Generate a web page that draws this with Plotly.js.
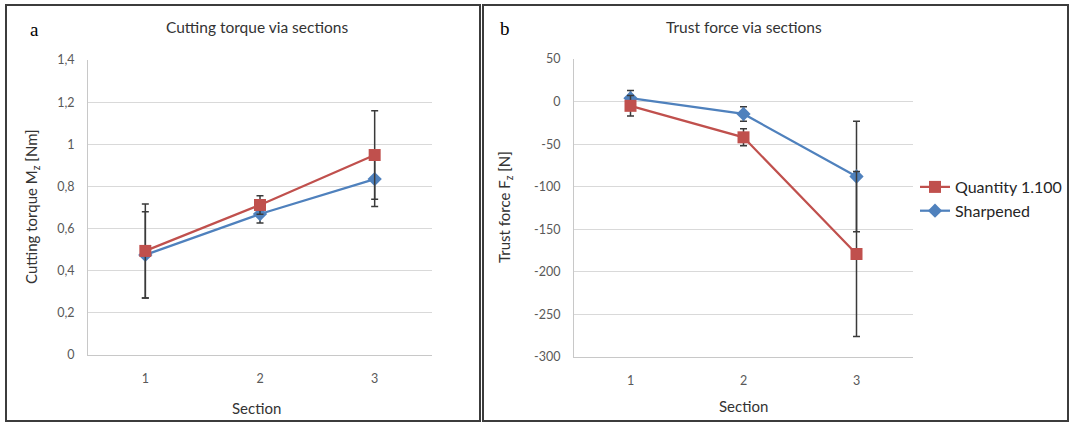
<!DOCTYPE html>
<html>
<head>
<meta charset="utf-8">
<script src="https://cdn.plot.ly/plotly-3.0.1.min.js"></script>
<style>html,body{margin:0;padding:0;background:#fff;}#chart{width:1071px;height:423px;}</style>
</head>
<body>
<div id="chart"></div>
<script>
// ---- data ----
const sections = ['1', '2', '3'];
const seriesNames = ['Quantity 1.100', 'Sharpened'];
// panel a: cutting torque Mz [Nm]
const torqueTicks = [0, 0.2, 0.4, 0.6, 0.8, 1, 1.2, 1.4];
const torqueTickLabels = ['0', '0,2', '0,4', '0,6', '0,8', '1', '1,2', '1,4'];
const torqueQuantity = [0.494, 0.712, 0.949];
const torqueQuantityErr = [0.223, 0.044, 0.21];
const torqueSharpened = [0.475, 0.669, 0.835];
const torqueSharpenedErr = [0.205, 0.042, 0.13];
// panel b: trust force Fz [N]
const forceTicks = [50, 0, -50, -100, -150, -200, -250, -300];
const forceTickLabels = ['50', '0', '-50', '-100', '-150', '-200', '-250', '-300'];
const forceQuantity = [-5, -42, -179];
const forceQuantityErr = [12, 10, 97];
const forceSharpened = [4, -14.5, -88];
const forceSharpenedErr = [9, 8.5, 65];

const RED = '#C0504D', BLUE = '#4F81BD', ERR = '#3a3a3a';
const W = 1071, H = 423;
const px = v => v / W, py = v => 1 - v / H;

function trace(x, y, err, name, color, symbol, size, xa, ya, showlegend) {
  return {
    type: 'scatter', mode: 'lines+markers', x: x, y: y, name: name,
    xaxis: xa, yaxis: ya, showlegend: showlegend,
    line: {color: color, width: 2.25},
    marker: {color: color, symbol: symbol, size: size},
    error_y: {type: 'data', array: err, visible: true, color: ERR, thickness: 1.5, width: 3.5}
  };
}

const data = [
  trace(sections, torqueSharpened, torqueSharpenedErr, seriesNames[1], BLUE, 'diamond', 11, 'x', 'y', false),
  trace(sections, torqueQuantity, torqueQuantityErr, seriesNames[0], RED, 'square', 12, 'x', 'y', false),
  trace(sections, forceSharpened, forceSharpenedErr, seriesNames[1], BLUE, 'diamond', 11, 'x2', 'y2', true),
  trace(sections, forceQuantity, forceQuantityErr, seriesNames[0], RED, 'square', 12, 'x2', 'y2', true)
];

const tickFont = {family: 'Lato, sans-serif', size: 12.5, color: '#595959'};
const titleFont = {family: 'Lato, sans-serif', size: 15.5, color: '#333333'};
const axisTitleFont = {family: 'Lato, sans-serif', size: 15, color: '#333333'};

function xaxis(domain, anchor) {
  return {
    domain: domain, anchor: anchor, type: 'category', range: [-0.5, 2.5],
    showgrid: false, zeroline: false, showline: true, linecolor: '#c8c8c8', linewidth: 1,
    ticks: '', tickfont: tickFont, ticklabelstandoff: 12, fixedrange: true
  };
}
function yaxis(domain, anchor, range, vals, labels) {
  return {
    domain: domain, anchor: anchor, range: range,
    tickmode: 'array', tickvals: vals, ticktext: labels,
    showgrid: true, gridcolor: '#d9d9d9', gridwidth: 1, zeroline: false,
    showline: true, linecolor: '#c8c8c8', linewidth: 1,
    ticks: '', tickfont: tickFont, ticklabelstandoff: 10, fixedrange: true
  };
}

function ann(text, x, y, font, extra) {
  return Object.assign({text: text, x: px(x), y: py(y), xref: 'paper', yref: 'paper',
    xanchor: 'center', yanchor: 'middle', showarrow: false, font: font}, extra || {});
}
const letterFont = {family: 'Liberation Serif, serif', size: 19, color: '#000'};

const layout = {
  width: W, height: H,
  margin: {l: 0, r: 0, t: 0, b: 0},
  paper_bgcolor: '#ffffff', plot_bgcolor: '#ffffff',
  showlegend: true,
  legend: {
    x: px(915), y: py(170), xanchor: 'left', yanchor: 'top',
    traceorder: 'reversed', itemwidth: 30,
    font: {family: 'Lato, sans-serif', size: 16, color: '#262626'},
    bgcolor: 'rgba(0,0,0,0)'
  },
  xaxis: xaxis([px(88), px(432)], 'y'),
  yaxis: yaxis([py(355), py(60)], 'x', [0, 1.4], torqueTicks, torqueTickLabels),
  xaxis2: xaxis([px(574), px(913)], 'y2'),
  yaxis2: yaxis([py(357), py(59)], 'x2', [-300, 50], forceTicks, forceTickLabels),
  annotations: [
    ann('Cutting torque via sections', 257, 27, titleFont),
    ann('Trust force via sections', 744, 27, titleFont),
    ann('a', 34, 30, letterFont),
    ann('b', 505, 29, letterFont),
    ann('Cutting torque M<sub>z</sub> [Nm]', 32, 207, axisTitleFont, {textangle: -90}),
    ann('Trust force F<sub>z</sub> [N]', 505, 207, axisTitleFont, {textangle: -90}),
    ann('Section', 256, 408, axisTitleFont),
    ann('Section', 743, 406, axisTitleFont)
  ],
  shapes: [
    {type: 'rect', xref: 'paper', yref: 'paper', x0: px(6), x1: px(480), y0: py(421), y1: py(5), line: {color: '#3c3c3c', width: 2}},
    {type: 'rect', xref: 'paper', yref: 'paper', x0: px(483), x1: px(1068), y0: py(421), y1: py(5), line: {color: '#3c3c3c', width: 2}}
  ]
};

Plotly.newPlot('chart', data, layout, {displayModeBar: false, staticPlot: true});
</script>
</body>
</html>
